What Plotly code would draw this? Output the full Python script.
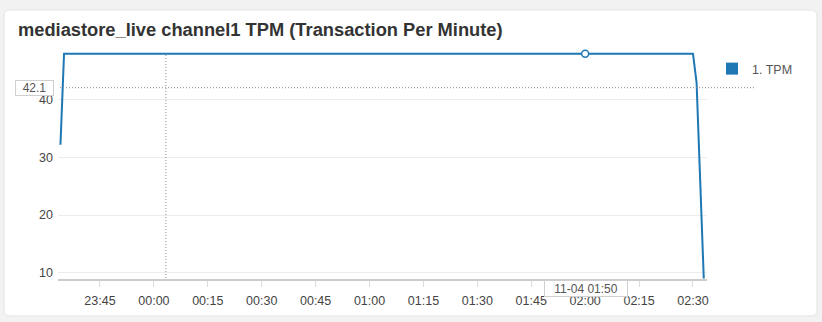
import plotly.graph_objects as go

# ---- data ----
times = ["2021-11-03 23:34", "2021-11-03 23:35", "2021-11-04 02:00",
         "2021-11-04 02:30", "2021-11-04 02:31", "2021-11-04 02:33"]
tpm = [32.2, 48, 48, 48, 43, 9]
series_name = "1. TPM"
hover_time = "2021-11-04 02:00"
hover_value = 48
cross_time = "2021-11-04 00:03:20"
cross_value = 42.1
cross_value_label = "42.1"
cross_time_label = "11-04 01:50"
tick_vals = ["2021-11-03 23:45", "2021-11-04 00:00", "2021-11-04 00:15", "2021-11-04 00:30",
             "2021-11-04 00:45", "2021-11-04 01:00", "2021-11-04 01:15", "2021-11-04 01:30",
             "2021-11-04 01:45", "2021-11-04 02:00", "2021-11-04 02:15", "2021-11-04 02:30"]
tick_text = ["23:45", "00:00", "00:15", "00:30", "00:45", "01:00", "01:15", "01:30",
             "01:45", "02:00", "02:15", "02:30"]
y_ticks = [10, 20, 30, 40]
title = "mediastore_live channel1 TPM (Transaction Per Minute)"

BLUE = "#1f77b4"
W, H = 822, 322
L, R, T, B = 58, 707, 48, 279
PW, PH = R - L, B - T


def px(x):
    return (x - L) / PW


def py(y):
    return 1 - (y - T) / PH


def card_path(x0, y0, x1, y1, r):
    pts = [
        ("M", [(x0 + r, y0)]), ("L", [(x1 - r, y0)]), ("Q", [(x1, y0), (x1, y0 + r)]),
        ("L", [(x1, y1 - r)]), ("Q", [(x1, y1), (x1 - r, y1)]), ("L", [(x0 + r, y1)]),
        ("Q", [(x0, y1), (x0, y1 - r)]), ("L", [(x0, y0 + r)]), ("Q", [(x0, y0), (x0 + r, y0)]),
    ]
    s = ""
    for cmd, ps in pts:
        s += cmd + " " + " ".join(f"{px(a):.5f},{py(b):.5f}" for a, b in ps) + " "
    return s + "Z"


fig = go.Figure()
fig.add_trace(go.Scatter(x=times, y=tpm, mode="lines", line=dict(color=BLUE, width=2),
                         showlegend=False, hoverinfo="skip"))
fig.add_trace(go.Scatter(x=[hover_time], y=[hover_value], mode="markers",
                         marker=dict(size=7, color="white", line=dict(color=BLUE, width=1.5)),
                         showlegend=False, hoverinfo="skip"))
fig.add_trace(go.Scatter(x=[None], y=[None], mode="markers", name=series_name,
                         marker=dict(symbol="square", size=12, color=BLUE)))

DOT = "1px,2px"
shapes = [
    dict(type="path", xref="paper", yref="paper", path=card_path(4, 10, 817, 316, 6),
         fillcolor="white", line=dict(color="#e4e4e4", width=1), layer="below"),
    dict(type="line", xref="x", yref="paper", x0=cross_time, x1=cross_time,
         y0=py(55), y1=0, line=dict(color="#8a8a8a", width=1, dash=DOT)),
    dict(type="line", xref="paper", yref="y", x0=px(60), x1=px(754),
         y0=cross_value, y1=cross_value, line=dict(color="#8a8a8a", width=1, dash=DOT)),
]

annotations = [
    dict(text=cross_value_label, xref="paper", yref="y", x=px(34.5), y=cross_value,
         xanchor="center", yanchor="middle", showarrow=False, bgcolor="white",
         bordercolor="#cfcfcf", borderwidth=1, borderpad=0, width=37, height=14,
         font=dict(family="Liberation Sans", size=12, color="#555")),
    dict(text=cross_time_label, xref="paper", yref="paper", x=px(586), y=py(288),
         xanchor="center", yanchor="middle", showarrow=False, bgcolor="white",
         bordercolor="#cfcfcf", borderwidth=1, borderpad=0, width=82, height=15,
         font=dict(family="Liberation Sans", size=12, color="#555")),
]

fig.update_layout(
    width=W, height=H, autosize=False,
    margin=dict(l=L, r=W - R, t=T, b=H - B, pad=0),
    paper_bgcolor="#f2f2f2", plot_bgcolor="rgba(0,0,0,0)",
    title=dict(text=title, x=18 / W, xanchor="left", y=1 - 30 / H, yanchor="middle",
               font=dict(family="Liberation Sans", size=18.3, color="#333", weight="bold")),
    font=dict(family="Liberation Sans", size=12, color="#444"),
    showlegend=True,
    legend=dict(x=px(712), y=py(54), xanchor="left", yanchor="top", bgcolor="rgba(0,0,0,0)",
                font=dict(family="Liberation Sans", size=12.5, color="#555")),
    xaxis=dict(range=["2021-11-03 23:33:19", "2021-11-04 02:33:54"], tickvals=tick_vals,
               ticktext=tick_text, showgrid=False, zeroline=False, showline=True,
               linecolor="#cccccc", linewidth=2, ticks="outside", ticklen=6,
               tickcolor="#dddddd", ticklabelstandoff=3, tickfont=dict(size=12.5, color="#444")),
    yaxis=dict(range=[8.9, 48.99], tickvals=y_ticks, showgrid=True, gridcolor="#ececec",
               zeroline=False, showline=False, ticks="", ticklabelstandoff=4,
               tickfont=dict(size=12.5, color="#444")),
    shapes=shapes, annotations=annotations,
)

fig.write_html("out.html")
